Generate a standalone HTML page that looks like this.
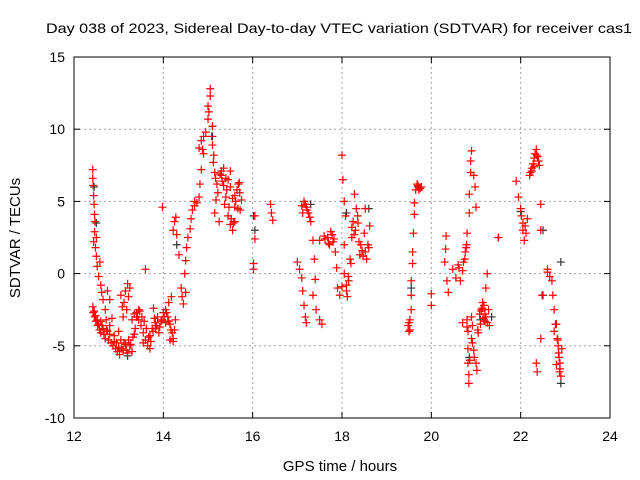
<!DOCTYPE html>
<html><head><meta charset="utf-8"><style>
body{margin:0;background:#fff;}
svg{display:block;font-family:"Liberation Sans",sans-serif;}
</style></head><body>
<svg id="chart" width="640" height="480">
<text x="339" y="33" font-size="14" textLength="586" lengthAdjust="spacingAndGlyphs" text-anchor="middle">Day 038 of 2023, Sidereal Day-to-day VTEC variation (SDTVAR) for receiver cas1</text>
<text x="340" y="471" font-size="15" text-anchor="middle">GPS time / hours</text>
<text transform="translate(20,238) rotate(-90)" font-size="15" text-anchor="middle">SDTVAR / TECUs</text>
<g id="grid"></g>
<g id="ticks"></g>
<g id="marks"></g>
<rect x="74" y="57" width="536" height="361" fill="none" stroke="#000" stroke-width="1"/>
</svg>
<script>
const xTicks=[12,14,16,18,20,22,24];
const yTicks=[-10,-5,0,5,10,15];
const redT=[12.42,12.42,12.43,12.44,12.45,12.46,12.47,12.46,12.44,12.48,12.5,12.5,12.52,12.55,12.58,12.6,12.62,12.65,12.42,12.45,12.48,12.52,12.55,12.6,12.65,12.7,12.72,12.75,12.8,12.85,12.9,12.95,13.0,13.05,13.1,13.15,13.2,13.25,13.3,13.35,13.1,13.12,13.15,13.2,13.18,13.22,13.3,13.35,13.4,13.45,13.5,13.55,13.6,13.65,13.7,13.75,13.8,13.78,13.85,13.9,13.95,14.0,14.05,14.1,14.12,14.15,14.2,14.22,14.25,14.18,13.6,13.98,14.22,14.25,14.28,14.3,14.35,14.4,14.42,14.45,14.5,14.48,14.5,14.52,14.55,14.6,14.62,14.65,14.7,14.75,14.8,14.82,14.85,14.8,14.85,14.9,14.95,15.0,15.0,15.05,15.05,15.1,15.1,15.12,15.15,15.2,15.18,15.15,15.25,15.3,15.35,15.35,15.4,15.45,15.5,15.55,15.45,15.5,15.55,15.6,15.65,15.7,15.72,15.75,15.6,16.05,16.05,16.02,16.02,16.4,16.42,16.45,17.0,17.05,17.1,17.12,17.15,17.18,17.2,17.1,17.15,17.2,17.25,17.3,17.35,17.38,17.4,17.35,17.42,17.5,17.55,17.5,17.6,17.7,17.75,17.8,17.85,17.88,17.9,17.95,18.0,18.02,18.05,18.08,18.05,18.05,18.1,18.12,18.15,18.2,18.22,18.25,18.28,18.3,18.35,18.38,18.4,18.45,18.5,18.52,18.55,18.6,18.62,19.48,19.5,19.52,19.55,19.55,19.55,19.58,19.58,19.6,19.62,19.62,19.65,19.7,19.75,20.0,20.0,20.3,20.32,20.33,20.35,20.38,20.6,20.65,20.7,20.75,20.78,20.8,20.85,20.85,20.88,20.9,20.88,20.95,20.98,21.0,20.8,20.82,20.82,20.84,20.84,20.7,20.9,20.95,21.0,21.02,21.05,21.1,21.12,21.15,21.2,21.25,21.3,21.22,21.25,21.9,21.95,22.0,22.02,22.05,22.08,22.1,22.15,22.2,22.25,22.3,22.35,22.38,22.3,22.42,22.45,22.45,22.48,22.45,22.35,22.37,22.6,22.65,22.7,22.72,22.75,22.8,22.82,22.85,22.88,22.9,22.8,22.75,20.48,21.5,20.8,
12.43,12.46,12.49,12.53,12.57,12.6,12.63,12.67,12.7,12.73,12.77,12.8,12.83,12.87,12.9,12.93,12.97,13.02,13.07,13.12,13.17,13.22,13.27,13.32,13.37,13.42,13.47,13.52,13.57,13.62,13.67,13.72,13.77,13.82,13.87,13.92,13.97,14.02,14.07,14.12,14.17,14.22,14.27,12.75,12.8,13.0,13.05,13.08,13.25,13.4,13.45,13.55,13.7,13.82,14.05,14.15,
15.02,15.08,15.13,15.17,15.22,15.27,15.32,15.37,15.42,15.47,15.52,15.57,15.62,15.67,15.71,15.3,15.4,15.5,15.6,15.68,14.88,14.9,14.7,
17.12,17.18,17.22,17.28,17.62,17.68,17.72,17.78,17.82,18.18,18.22,18.27,18.32,18.36,18.42,18.47,18.52,18.58,18.1,18.14,18.0,
19.52,19.5,19.68,19.72,19.78,20.55,20.62,20.72,20.76,20.79,20.82,20.86,20.92,20.96,21.04,21.08,21.14,21.18,21.22,21.28,21.12,21.16,21.2,20.9,20.92,
22.25,22.28,22.32,22.36,22.4,22.22,22.05,22.12,22.84,22.86,22.88,22.92,22.83,22.87,22.78,22.6];
const redV=[7.2,6.6,6.1,5.4,4.8,4.1,3.6,2.9,2.2,1.8,2.5,1.2,0.5,-0.2,0.8,-0.8,-1.3,-1.8,-2.3,-2.6,-2.9,-3.2,-3.5,-3.3,-3.8,-2.5,-3.2,-4.0,-3.6,-3.1,-4.3,-4.8,-5.1,-4.6,-5.3,-4.9,-5.5,-5.0,-5.4,-4.2,-3.0,-2.0,-1.2,-0.7,-2.5,-1.6,-3.2,-2.8,-2.7,-3.2,-3.6,-4.1,-4.6,-5.0,-4.3,-3.8,-3.1,-2.4,-3.6,-4.1,-3.3,-2.7,-3.4,-3.0,-2.0,-3.5,-4.1,-4.7,-3.9,-1.6,0.3,4.6,3.0,3.6,3.9,2.7,1.3,-1.0,-1.6,-2.1,-1.3,0.0,0.9,1.8,2.5,3.1,3.8,4.4,4.7,4.9,5.3,6.2,7.2,8.7,9.2,8.3,9.8,10.7,11.6,12.3,12.8,10.2,8.9,7.7,7.0,6.2,5.1,4.2,3.6,6.8,7.3,6.1,5.3,4.0,3.4,3.0,6.5,7.1,5.2,4.6,5.8,6.3,4.4,5.1,3.6,4.0,2.4,0.7,0.3,4.8,4.2,3.7,0.8,0.3,-0.3,-1.2,-2.2,-3.0,-3.4,4.7,5.0,4.6,4.2,3.6,2.3,1.0,-0.4,-1.5,-2.5,-3.2,-3.5,2.3,2.6,2.1,2.9,2.2,1.5,0.4,-1.0,-1.5,8.2,6.5,5.0,4.0,2.0,0.0,-0.8,-1.6,-0.5,0.7,2.5,3.6,5.5,3.0,4.0,2.2,1.3,1.6,2.8,4.5,1.0,1.8,3.3,-3.6,-4.0,-3.2,-2.5,-1.5,-0.5,0.7,1.5,2.8,4.1,4.9,5.8,6.1,5.9,-1.4,-2.2,0.8,1.7,2.6,-0.5,-1.3,0.6,-0.5,0.2,1.0,1.8,2.8,4.2,5.5,7.0,8.5,7.8,6.8,6.0,4.6,-3.7,-5.2,-6.2,-7.0,-7.6,-3.4,-4.5,-5.3,-6.2,-6.7,-4.1,-3.5,-2.5,-2.0,-2.8,-3.4,-3.6,-1.0,0.0,6.4,5.3,4.5,4.0,3.0,2.3,3.3,3.8,6.8,7.3,8.0,8.6,8.1,7.4,7.5,4.8,3.0,-1.5,-4.5,-6.2,-6.8,0.3,-0.2,-0.5,-1.5,-2.5,-3.5,-4.5,-5.5,-6.2,-7.1,-6.3,-4.0,0.3,2.5,-3.2,
-2.7,-3.0,-3.3,-3.6,-3.9,-4.1,-3.6,-4.2,-4.5,-3.9,-4.6,-4.2,-4.8,-5.0,-4.7,-5.2,-5.4,-5.6,-5.2,-4.8,-5.3,-4.6,-4.9,-4.4,-3.8,-3.0,-2.6,-3.0,-3.3,-3.8,-4.4,-4.7,-4.0,-3.4,-3.0,-3.7,-3.2,-3.0,-2.7,-3.3,-3.9,-4.5,-3.2,-1.2,-1.8,-4.0,-1.5,-2.3,-1.0,-3.0,-2.5,-4.8,-5.2,-3.8,-2.5,-4.6,
11.2,9.5,8.2,6.6,5.6,6.9,6.4,4.8,5.8,4.6,3.8,3.5,5.0,4.5,5.6,7.1,6.6,6.0,5.4,6.2,8.6,9.5,5.0,
4.2,4.8,4.4,3.9,2.4,2.5,2.0,2.7,2.4,1.0,3.2,2.7,4.5,3.5,2.0,1.2,1.5,2.0,-1.2,-0.2,-0.9,
-3.9,-3.4,6.2,5.8,6.0,-0.3,0.4,0.8,1.5,2.0,-4.0,-6.0,-4.8,-5.8,-3.9,-2.8,-2.4,-2.2,-3.0,-2.5,-2.6,-3.1,-3.3,-3.0,-3.6,
7.1,7.6,8.3,8.2,7.8,7.0,3.5,2.8,-5.0,-5.8,-6.6,-5.2,-4.6,-6.8,-3.5,0.1];
const blackT=[12.45,12.5,13.2,14.3,15.1,15.1,16.02,16.05,17.3,18.1,18.6,19.55,19.7,21.1,21.5,22.0,22.5,22.5,22.9,22.9,20.85,21.35];
const blackV=[6.0,3.5,-5.7,2.0,9.5,10.2,4.0,3.0,4.8,4.2,4.5,-1.0,6.0,-3.2,2.5,4.3,-1.5,3.0,-7.6,0.8,-5.8,-3.0];
const X0=74,X1=610,Y0=418,Y1=57;
function sx(t){return X0+(t-12)/(24-12)*(X1-X0);}
function sy(v){return Y0-(v+10)/(15+10)*(Y0-Y1);}
const NS="http://www.w3.org/2000/svg";
const grid=document.getElementById('grid'),ticks=document.getElementById('ticks'),marks=document.getElementById('marks'),svg=document.getElementById('chart');
function mk(tag,attrs,parent){const e=document.createElementNS(NS,tag);for(const k in attrs)e.setAttribute(k,attrs[k]);parent.appendChild(e);return e;}
xTicks.forEach(function(t){
  const x=sx(t);
  if(t>12&&t<24){const g=mk('line',{x1:x,x2:x,y1:Y1,y2:Y0,stroke:'#a0a0a0','stroke-dasharray':'2,3'},grid);
  
  }
  mk('line',{x1:x,x2:x,y1:Y0,y2:Y0-6,stroke:'#000'},ticks);
  mk('line',{x1:x,x2:x,y1:Y1,y2:Y1+6,stroke:'#000'},ticks);
  const l=mk('text',{x:x,y:Y0+23,'font-size':14,'text-anchor':'middle'},svg);
  l.textContent=t;
  
  
});
yTicks.forEach(function(v){
  const y=sy(v);
  if(v>-10&&v<15){const g=mk('line',{x1:X0,x2:X1,y1:y,y2:y,stroke:'#a0a0a0','stroke-dasharray':'2,3'},grid);
  
  }
  mk('line',{x1:X0,x2:X0+6,y1:y,y2:y,stroke:'#000'},ticks);
  mk('line',{x1:X1,x2:X1-6,y1:y,y2:y,stroke:'#000'},ticks);
  const l=mk('text',{x:X0-9,y:y+5,'font-size':14,'text-anchor':'end'},svg);
  l.textContent=v;
  
  
});
function plus(t,v,color,name){
  const x=sx(t),y=sy(v);
  const p=mk('path',{d:'M'+(x-4)+' '+y+'H'+(x+4)+'M'+x+' '+(y-4)+'V'+(y+4),stroke:color,'stroke-width':1.2,fill:'none'},marks);
  
  
}
blackT.forEach(function(t,i){plus(t,blackV[i],'#333333','sdtvar-point-black');});
redT.forEach(function(t,i){plus(t,redV[i],'#ff0000','sdtvar-point');});
</script>
</body></html>
